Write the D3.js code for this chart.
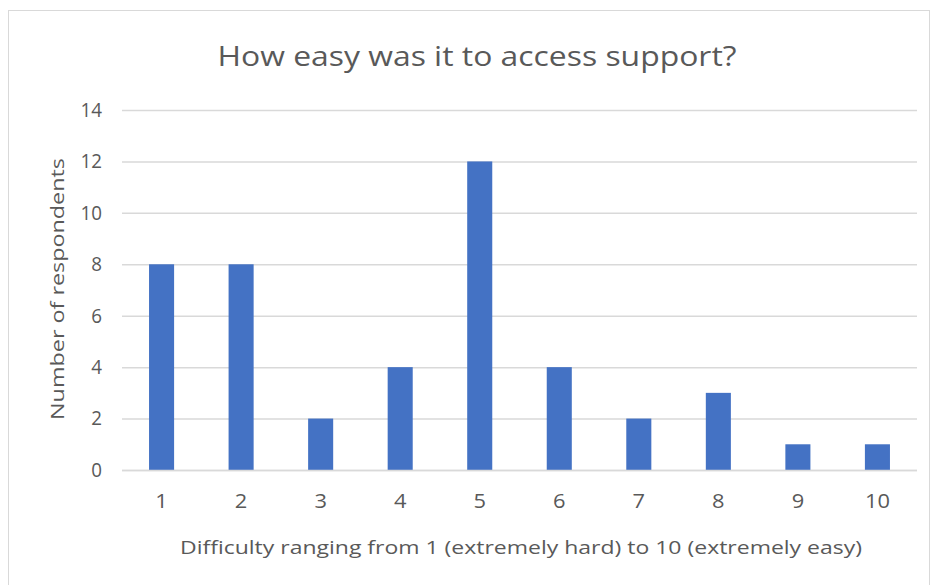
<!DOCTYPE html>
<html><head><meta charset="utf-8">
<script src="https://cdn.jsdelivr.net/npm/d3@7"></script>
<style>body{margin:0;background:#fff;} text{font-family:"Open Sans","Liberation Sans",sans-serif;fill:#595959;}</style>
</head><body>
<svg id="c" width="935" height="585"></svg>
<script>
const categories = ["1","2","3","4","5","6","7","8","9","10"];
const respondents = [8,8,2,4,12,4,2,3,1,1];
const yTicks = [0,2,4,6,8,10,12,14];
const title = "How easy was it to access support?";
const xTitle = "Difficulty ranging from 1 (extremely hard) to 10 (extremely easy)";
const yTitle = "Number of respondents";

const svg = d3.select("#c");
svg.append("rect").attr("x",8.5).attr("y",10.5).attr("width",921).attr("height",590)
  .attr("fill","#fff").attr("stroke","#d9d9d9");

const m = {l:122, r:917, t:110, b:470};
const x = d3.scaleBand().domain(categories).range([m.l,m.r]).paddingInner(0.685).paddingOuter(0.34);
const y = d3.scaleLinear().domain([0,14]).range([m.b,m.t]);

const grid = svg.append("g");
grid.selectAll("line").data(yTicks).join("line")
  .attr("x1",m.l).attr("x2",m.r).attr("y1",d=>y(d)+0.5).attr("y2",d=>y(d)+0.5)
  .attr("stroke","#d9d9d9").attr("stroke-width",1.5);

const yAxis = svg.append("g").attr("transform",`translate(${m.l},0)`)
  .call(d3.axisLeft(y).tickValues(yTicks).tickSize(0).tickPadding(20));
yAxis.select(".domain").remove();
yAxis.selectAll("text").style("font-size","20px").style("fill","#595959").style("font-family","Open Sans, sans-serif")
  .attr("transform","scale(0.94,1)").attr("x",-20/0.94);

svg.append("g").selectAll("rect").data(respondents).join("rect")
  .attr("x",(d,i)=>x(categories[i])).attr("width",x.bandwidth())
  .attr("y",d=>y(d)).attr("height",d=>y(0)-y(d)).attr("fill","#4472c4");

svg.append("line").attr("x1",m.l).attr("x2",m.r).attr("y1",y(0)+0.5).attr("y2",y(0)+0.5)
  .attr("stroke","#d9d9d9").attr("stroke-width",1.5);

const xAxis = svg.append("g").attr("transform",`translate(0,${m.b})`)
  .call(d3.axisBottom(x).tickSize(0).tickPadding(24));
xAxis.select(".domain").remove();
xAxis.selectAll("text").style("font-size","20px").style("fill","#595959").style("font-family","Open Sans, sans-serif")
  .attr("transform",function(){ return null; });
xAxis.selectAll(".tick text").each(function(){
  const t = d3.select(this);
  t.attr("textLength", t.text().length*12.5).attr("lengthAdjust","spacingAndGlyphs");
});

svg.append("text").attr("x",477).attr("y",66).attr("text-anchor","middle")
  .attr("font-size",27).attr("textLength",519).attr("lengthAdjust","spacingAndGlyphs").text(title);
svg.append("text").attr("x",521).attr("y",554).attr("text-anchor","middle")
  .attr("font-size",19).attr("textLength",682).attr("lengthAdjust","spacingAndGlyphs").text(xTitle);
svg.append("text").attr("transform","translate(64,289) rotate(-90)").attr("text-anchor","middle")
  .attr("font-size",19).attr("textLength",262).attr("lengthAdjust","spacingAndGlyphs").text(yTitle);
</script>
</body></html>
